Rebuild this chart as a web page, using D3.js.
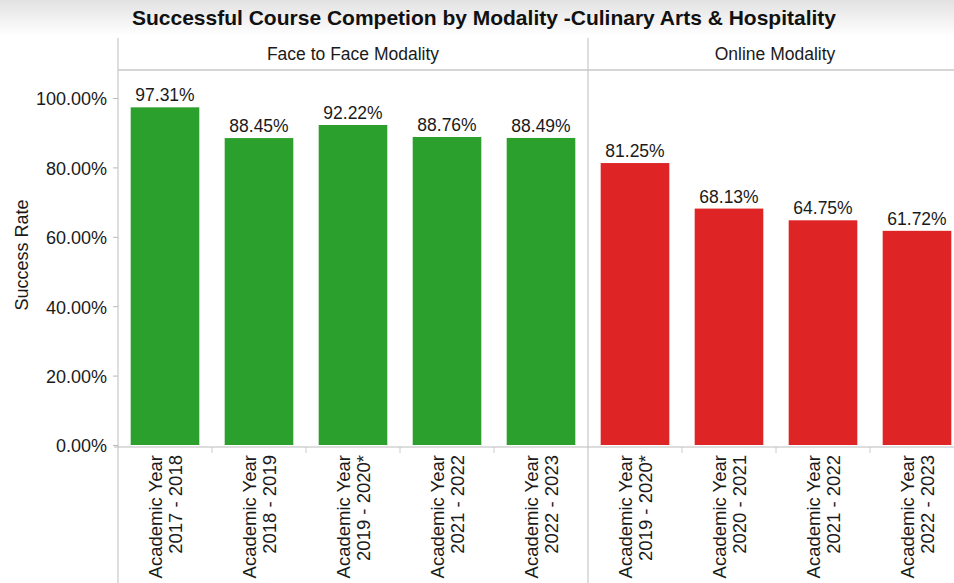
<!DOCTYPE html>
<meta charset="utf-8">
<html>
<head>
<title>Successful Course Completion by Modality</title>
<script src="https://d3js.org/d3.v7.min.js"></script>
<style>
  body {margin: 0; background: #fff; font-family: "Liberation Sans", Arial, sans-serif;}
  .axis text {font: 18px "Liberation Sans", Arial, sans-serif; fill: #1a1a1a;}
  .axis path, .axis line {stroke: #bbb;}
</style>
</head>
<body>
<svg id="chart" width="954" height="583"></svg>
<script>
// data
var panels = ["Face to Face Modality", "Online Modality"];
var f2fYears = ["Academic Year|2017 - 2018", "Academic Year|2018 - 2019", "Academic Year|2019 - 2020*",
                "Academic Year|2021 - 2022", "Academic Year|2022 - 2023"];
var f2fValues = [0.9731, 0.8845, 0.9222, 0.8876, 0.8849];
var onlineYears = ["Academic Year|2019 - 2020*", "Academic Year|2020 - 2021",
                   "Academic Year|2021 - 2022", "Academic Year|2022 - 2023"];
var onlineValues = [0.8125, 0.6813, 0.6475, 0.6172];
var yTicks = [0, 0.2, 0.4, 0.6, 0.8, 1.0];
var colors = ["#2ca02c", "#de2424"];

var svg = d3.select("#chart");
var top0 = 38, plotTop = 70, plotBottom = 445, axisY = 447;
var txt = "'Liberation Sans', Arial, sans-serif";

// title band
var grad = svg.append("defs").append("linearGradient")
    .attr("id", "band").attr("x1", 0).attr("x2", 0).attr("y1", 0).attr("y2", 1);
grad.append("stop").attr("offset", "0%").attr("stop-color", "#e2e2e2");
grad.append("stop").attr("offset", "100%").attr("stop-color", "#ffffff");
svg.append("rect").attr("x", 0).attr("y", 0).attr("width", 954).attr("height", 36).attr("fill", "url(#band)");

svg.append("text")
    .attr("x", 484).attr("y", 25)
    .attr("text-anchor", "middle")
    .style("font", "bold 21px " + txt)
    .style("fill", "#111")
    .text("Successful Course Competion by Modality -Culinary Arts & Hospitality");

var y = d3.scaleLinear().domain([0, 1]).range([plotBottom, 98]);

var x1 = d3.scaleBand().domain(f2fYears).range([118, 588]).paddingInner(0.27).paddingOuter(0.135);
var x2 = d3.scaleBand().domain(onlineYears).range([588, 964]).paddingInner(0.27).paddingOuter(0.135);

var groups = [
  {name: panels[0], x: x1, years: f2fYears, values: f2fValues, color: colors[0], cx: 353},
  {name: panels[1], x: x2, years: onlineYears, values: onlineValues, color: colors[1], cx: 775}
];

// header line
svg.append("line").attr("x1", 118).attr("x2", 954).attr("y1", plotTop).attr("y2", plotTop)
    .attr("stroke", "#c8c8c8").attr("stroke-width", 1.5);

groups.forEach(function (g) {
  var r = g.x.range();
  svg.append("text")
      .attr("x", g.cx)
      .attr("y", top0 + 22)
      .attr("text-anchor", "middle")
      .style("font", "17.5px " + txt)
      .style("fill", "#1a1a1a")
      .text(g.name);

  svg.append("line")
      .attr("x1", r[0]).attr("x2", r[0]).attr("y1", top0).attr("y2", 583)
      .attr("stroke", "#c8c8c8").attr("stroke-width", 1.2);

  var data = g.years.map(function (d, i) { return {k: d, v: g.values[i]}; });

  svg.append("g").selectAll("rect").data(data).enter().append("rect")
      .attr("x", function (d) { return g.x(d.k); })
      .attr("width", g.x.bandwidth())
      .attr("y", function (d) { return y(d.v); })
      .attr("height", function (d) { return y(0) - y(d.v); })
      .attr("fill", g.color);

  svg.append("g").selectAll("text").data(data).enter().append("text")
      .attr("x", function (d) { return g.x(d.k) + g.x.bandwidth() / 2; })
      .attr("y", function (d) { return y(d.v) - 6; })
      .attr("text-anchor", "middle")
      .style("font", "17.5px " + txt)
      .style("fill", "#1a1a1a")
      .text(function (d) { return d3.format(".2%")(d.v); });

  // category ticks at band boundaries
  var step = g.x.step();
  g.years.forEach(function (d, i) {
    if (i === 0) return;
    var bx = g.x(d) - (step - g.x.bandwidth()) / 2;
    svg.append("line").attr("x1", bx).attr("x2", bx).attr("y1", axisY).attr("y2", axisY + 6)
        .attr("stroke", "#ccc");
  });

  // category labels
  var lab = svg.append("g").selectAll("text").data(g.years).enter().append("text")
      .attr("transform", function (d) {
        return "translate(" + (g.x(d) + g.x.bandwidth() / 2) + "," + (axisY + 8) + ") rotate(-90)";
      })
      .attr("text-anchor", "end")
      .style("font", "18.5px " + txt)
      .style("fill", "#1a1a1a");
  lab.append("tspan").attr("x", 0).attr("y", -3).text(function (d) { return d.split("|")[0]; });
  lab.append("tspan").attr("x", 0).attr("y", 17).text(function (d) { return d.split("|")[1]; });
});

// x axis baseline
svg.append("line").attr("x1", 114).attr("x2", 954).attr("y1", axisY).attr("y2", axisY)
    .attr("stroke", "#bbb").attr("stroke-width", 1.2);

// y axis
var yAxis = svg.append("g")
    .attr("class", "axis")
    .attr("transform", "translate(118,0)")
    .call(d3.axisLeft(y).tickValues(yTicks).tickFormat(d3.format(".2%")).tickSize(5).tickPadding(6));
yAxis.select(".domain").remove();
yAxis.selectAll("text").attr("dy", "0.38em");

svg.append("text")
    .attr("transform", "translate(28,255) rotate(-90)")
    .attr("text-anchor", "middle")
    .style("font", "18px " + txt)
    .style("fill", "#1a1a1a")
    .text("Success Rate");
</script>
</body>
</html>
